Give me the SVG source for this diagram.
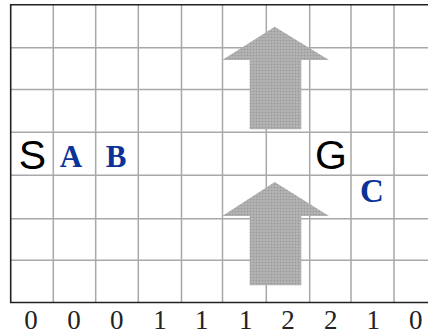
<svg xmlns="http://www.w3.org/2000/svg" width="428" height="334" viewBox="0 0 428 334">
<defs>
<pattern id="dots" width="3" height="3" patternUnits="userSpaceOnUse">
<rect width="3" height="3" fill="#b2b2b2"/>
<circle cx="1.5" cy="1.5" r="0.8" fill="#989898"/>
</pattern>
<style>
.grid{stroke:#a8a8a8;stroke-width:1.5;fill:none}
.border{stroke:#222;stroke-width:1.6;fill:none}
.arrow{fill:url(#dots)}
.big{font-family:"Liberation Sans",Arial,sans-serif;font-size:41px;fill:#000;text-anchor:middle}
.lbl{font-family:"Liberation Serif","Times New Roman",serif;font-weight:bold;fill:#0a3399;text-anchor:middle}
.num{font-family:"Liberation Serif","Times New Roman",serif;font-size:27px;fill:#222;text-anchor:middle}
</style>
</defs>
<rect width="428" height="334" fill="#fff"/>
<g id="grid">
<path class="grid" d="M53.3 4.7V302.5M95.7 4.7V302.5M138.3 4.7V302.5M181.5 4.7V302.5M222.5 4.7V302.5M266.3 4.7V302.5M309.7 4.7V302.5M351 4.7V302.5M394 4.7V302.5"/>
<path class="grid" d="M10.7 47.7H428M10.7 89.5H428M10.7 132.3H428M10.7 175.3H428M10.7 218.7H428M10.7 260.3H428"/>
<path class="border" d="M428 4.7H10.7V302.5H428"/>
</g>
<g id="arrow-top"><polygon class="arrow" points="274.7,26.7 329,60 301.3,60 301.3,129.3 249.7,129.3 249.7,60 222.3,60"/></g>
<g id="arrow-bottom"><polygon class="arrow" points="274.7,182 329,216 301.3,216 301.3,285.3 249.7,285.3 249.7,216 222.3,216"/></g>
<g id="S"><text class="big" x="32.5" y="168.5">S</text></g>
<g id="G"><text class="big" x="331" y="168.5">G</text></g>
<g id="A"><text class="lbl" x="71" y="166.7" font-size="31">A</text></g>
<g id="B"><text class="lbl" x="116" y="166.7" font-size="31">B</text></g>
<g id="C"><text class="lbl" x="372" y="201.7" font-size="33">C</text></g>
<g id="numbers">
<text class="num" x="31" y="329">0</text>
<text class="num" x="74" y="329">0</text>
<text class="num" x="116.7" y="329">0</text>
<text class="num" x="160" y="329">1</text>
<text class="num" x="201.7" y="329">1</text>
<text class="num" x="245.7" y="329">1</text>
<text class="num" x="288" y="329">2</text>
<text class="num" x="330.7" y="329">2</text>
<text class="num" x="373.3" y="329">1</text>
<text class="num" x="415.7" y="329">0</text>
</g>
</svg>
